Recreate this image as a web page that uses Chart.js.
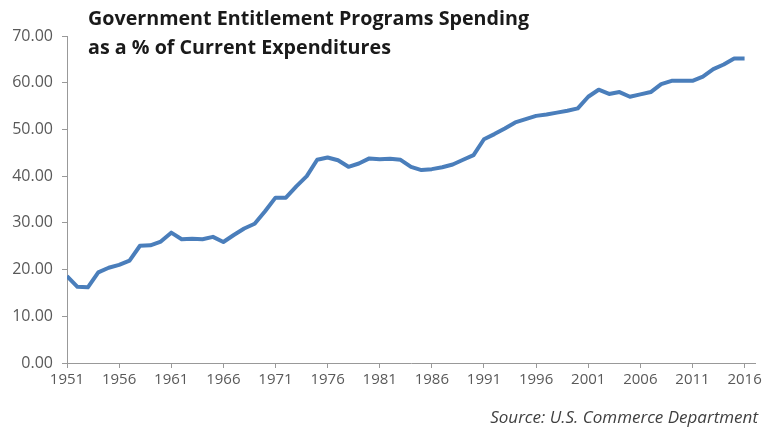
<!DOCTYPE html>
<html>
<head>
<meta charset="utf-8">
<script src="https://cdn.jsdelivr.net/npm/chart.js@4/dist/chart.umd.min.js"></script>
<style>
  html, body { margin: 0; padding: 0; background: #ffffff; }
  #wrap { position: relative; width: 775px; height: 432px; }
  #chart { position: absolute; left: 0; top: 0; }
  .title {
    position: absolute; left: 88px; top: 3px;
    font-family: "Open Sans", sans-serif; font-weight: 700; font-size: 19.7px;
    line-height: 29px; color: #1a1a1a; white-space: nowrap;
  }
  .source {
    position: absolute; right: 17px; top: 405px;
    font-family: "Open Sans", sans-serif; font-style: italic; font-size: 17px;
    color: #404040; white-space: nowrap;
  }
</style>
</head>
<body>
<div id="wrap">
  <canvas id="chart" width="775" height="432"></canvas>
  <div class="title">Government Entitlement Programs Spending<br>as a % of Current Expenditures</div>
  <div class="source">Source: U.S. Commerce Department</div>
</div>
<script>
// Fiscal years covered by the series
const years = [
  1951, 1952, 1953, 1954, 1955, 1956, 1957, 1958, 1959, 1960,
  1961, 1962, 1963, 1964, 1965, 1966, 1967, 1968, 1969, 1970,
  1971, 1972, 1973, 1974, 1975, 1976, 1977, 1978, 1979, 1980,
  1981, 1982, 1983, 1984, 1985, 1986, 1987, 1988, 1989, 1990,
  1991, 1992, 1993, 1994, 1995, 1996, 1997, 1998, 1999, 2000,
  2001, 2002, 2003, 2004, 2005, 2006, 2007, 2008, 2009, 2010,
  2011, 2012, 2013, 2014, 2015, 2016
];

// Entitlement spending as a percentage of current expenditures
const entitlementShare = [
  18.6, 16.3, 16.2, 19.4, 20.4, 21.0, 21.9, 25.1, 25.2, 26.0,
  27.9, 26.5, 26.6, 26.5, 27.0, 25.9, 27.4, 28.8, 29.8, 32.5,
  35.4, 35.4, 37.8, 40.0, 43.5, 44.0, 43.4, 42.0, 42.7, 43.8,
  43.6, 43.7, 43.5, 42.0, 41.3, 41.5, 41.9, 42.5, 43.5, 44.5,
  47.9, 49.0, 50.2, 51.5, 52.2, 52.9, 53.2, 53.6, 54.0, 54.5,
  57.0, 58.5, 57.6, 58.0, 57.0, 57.5, 58.0, 59.7, 60.4, 60.4,
  60.4, 61.3, 62.9, 63.9, 65.2, 65.2
];

// Labelled years on the horizontal axis
const yearTicks = [1951, 1956, 1961, 1966, 1971, 1976, 1981, 1986, 1991, 1996, 2001, 2006, 2011, 2016];

const axisGray = '#999999';
const labelColor = '#595959';

new Chart(document.getElementById('chart'), {
  type: 'line',
  data: {
    datasets: [{
      data: years.map((yr, i) => ({ x: yr, y: entitlementShare[i] })),
      borderColor: '#4a7ebb',
      borderWidth: 4,
      borderJoinStyle: 'round',
      pointRadius: 0,
      tension: 0,
      fill: false
    }]
  },
  options: {
    responsive: false,
    animation: false,
    layout: { padding: { top: 36, right: 20, left: 0, bottom: 0 } },
    plugins: { legend: { display: false }, tooltip: { enabled: false } },
    scales: {
      x: {
        type: 'linear',
        min: 1951,
        max: 2017,
        afterBuildTicks: (scale) => { scale.ticks = yearTicks.map(v => ({ value: v })); },
        afterFit: (scale) => { scale.height = 69; },
        grid: { display: true, drawOnChartArea: false, drawTicks: true, tickLength: 5, color: axisGray },
        border: { display: true, color: axisGray, width: 1 },
        ticks: {
          color: labelColor,
          font: { family: '"Open Sans", sans-serif', size: 15 },
          padding: 3,
          maxRotation: 0,
          autoSkip: false,
          callback: (v) => String(v)
        }
      },
      y: {
        min: 0,
        max: 70,
        afterFit: (scale) => { scale.width = 67; },
        grid: { display: true, drawOnChartArea: false, drawTicks: true, tickLength: 5, color: axisGray },
        border: { display: true, color: axisGray, width: 1 },
        ticks: {
          stepSize: 10,
          color: labelColor,
          font: { family: '"Open Sans", sans-serif', size: 16 },
          padding: 9,
          callback: (v) => v.toFixed(2)
        }
      }
    }
  }
});
</script>
</body>
</html>
